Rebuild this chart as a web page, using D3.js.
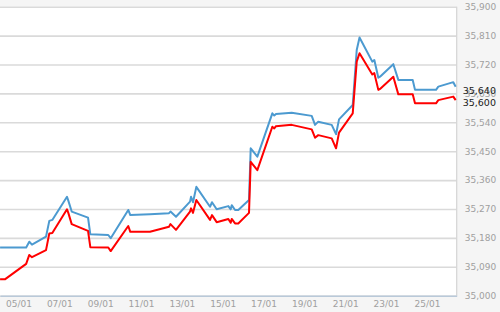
<!DOCTYPE html>
<html>
<head>
<meta charset="utf-8">
<script src="https://cdn.jsdelivr.net/npm/d3@7"></script>
<style>
  body { margin: 0; background: #f5f5f5; }
  .tick text { font-family: "DejaVu Sans", sans-serif; font-size: 9px; fill: #a0a0a0; }
  .grid line { stroke: #dadada; stroke-width: 1.6; }
  .grid .domain { display: none; }
</style>
</head>
<body>
<div id="chart-area"></div>
<script>
// dates of the points (dd/mm hh:mm)
var times = ["04/01 02:20","04/01 08:00","05/01 09:00","05/01 12:40","05/01 15:50","06/01 08:20","06/01 12:12","06/01 15:44",
    "07/01 09:00","07/01 10:32","07/01 14:32","08/01 09:42","08/01 12:24","09/01 09:30","09/01 12:22","10/01 09:00",
    "10/01 11:24","11/01 10:30","12/01 08:54","12/01 10:36","12/01 17:06","13/01 09:36","13/01 10:48","13/01 13:06",
    "13/01 17:00","14/01 09:06","14/01 11:24","14/01 16:54","15/01 06:36","15/01 09:24","15/01 10:36","15/01 14:30",
    "15/01 18:18","16/01 06:54","16/01 08:54","16/01 16:42","17/01 10:18","17/01 12:36","17/01 14:36","18/01 09:06",
    "19/01 08:36","19/01 12:30","19/01 16:18","20/01 08:06","20/01 13:12","20/01 16:42","21/01 08:48","21/01 13:30",
    "21/01 16:48","22/01 07:48","22/01 10:12","22/01 14:54","22/01 16:54","23/01 08:30","23/01 14:24","24/01 07:18",
    "24/01 10:00","25/01 10:42","25/01 13:24","26/01 07:00","26/01 09:48"]

var blue = [35150,35150,35150,35168,35159,35184,35233,35236,35308,35296,35262,35243,35191,35189,35179,35267,
    35251,35254,35257,35262,35246,35293,35308,35291,35339,35277,35291,35269,35279,35269,35282,35267,
    35267,35298,35459,35433,35568,35561,35566,35570,35560,35532,35542,35532,35503,35549,35594,35765,
    35804,35729,35734,35679,35682,35721,35672,35672,35641,35641,35651,35665,35651]

var red = [35051,35051,35099,35127,35120,35142,35194,35195,35269,35258,35223,35202,35151,35150,35139,35217,
    35199,35199,35215,35223,35205,35262,35272,35258,35298,35236,35251,35229,35239,35227,35239,35225,
    35225,35258,35417,35391,35526,35521,35528,35532,35518,35492,35500,35490,35459,35508,35568,35729,
    35755,35689,35693,35641,35644,35682,35627,35627,35599,35599,35609,35620,35609]

var yTicks = [35000,35090,35180,35270,35360,35450,35540,35630,35720,35810,35900]
var xTicks = ["05/01","07/01","09/01","11/01","13/01","15/01","17/01","19/01","21/01","23/01","25/01"]
var lastLabels = [35640, 35600]
var colors = ["#4c9ad0", "#ff0000"]

var cw = 500, ch = 312
var m = {l: 0, t: 6.7, r: 43.3, b: 16.3}
var w = cw - m.l - m.r
var h = ch - m.t - m.b

var parseT = d3.timeParse("%d/%m %H:%M")
var parseD = d3.timeParse("%d/%m")

var svg = d3.select("#chart-area").append("svg")
    .attr("width", cw)
    .attr("height", ch)

var g = svg.append("g").attr("transform", "translate(" + m.l + ", " + m.t + ")")

g.append("rect")
    .attr("width", w)
    .attr("height", h)
    .attr("fill", "#fff")

var x = d3.scaleTime()
    .domain([parseT("04/01 02:15"), parseT("26/01 11:00")])
    .range([0, w])

var y = d3.scaleLinear()
    .domain([35000, 35900])
    .range([h, 0])

// grid
g.append("g")
    .attr("class", "grid")
    .call(d3.axisLeft(y).tickValues(yTicks).tickSize(-w).tickFormat(""))

g.append("line")
    .attr("x1", w).attr("x2", w)
    .attr("y1", 0).attr("y2", h)
    .attr("stroke", "#d4d4d4")
    .attr("stroke-width", 1.2)

// right axis labels
var rightAxis = d3.axisRight(y)
    .tickValues(yTicks)
    .tickSize(0)
    .tickPadding(8)
    .tickFormat(d3.format(","))

var ra = g.append("g")
    .attr("transform", "translate(" + w + ",0)")
    .call(rightAxis)
ra.select(".domain").remove()

// bottom axis
var bottomAxis = d3.axisBottom(x)
    .tickValues(xTicks.map(parseD))
    .tickSize(0)
    .tickPadding(5)
    .tickFormat(d3.timeFormat("%d/%m"))

var ba = g.append("g")
    .attr("transform", "translate(0," + h + ")")
    .call(bottomAxis)
ba.select(".domain").attr("stroke", "#b9c9d9").attr("stroke-width", 1.5)

// lines
var data = times.map((t, i) => ({t: parseT(t), b: blue[i], r: red[i]}))

var line = key => d3.line()
    .x(d => x(d.t))
    .y(d => y(d[key]))

g.append("path")
    .datum(data)
    .attr("fill", "none")
    .attr("stroke", colors[0])
    .attr("stroke-width", 2)
    .attr("stroke-linejoin", "round")
    .attr("d", line("b"))

g.append("path")
    .datum(data)
    .attr("fill", "none")
    .attr("stroke", colors[1])
    .attr("stroke-width", 2)
    .attr("stroke-linejoin", "round")
    .attr("d", line("r"))

// last value labels
g.selectAll(".last")
    .data(lastLabels)
    .enter()
    .append("text")
    .attr("class", "last")
    .attr("x", w + 6)
    .attr("y", d => y(d))
    .attr("dy", "0.35em")
    .attr("font-family", "DejaVu Sans, sans-serif")
    .attr("font-size", "9.5px")
    .attr("fill", "#1a1a1a")
    .text(d3.format(","))
</script>
</body>
</html>
